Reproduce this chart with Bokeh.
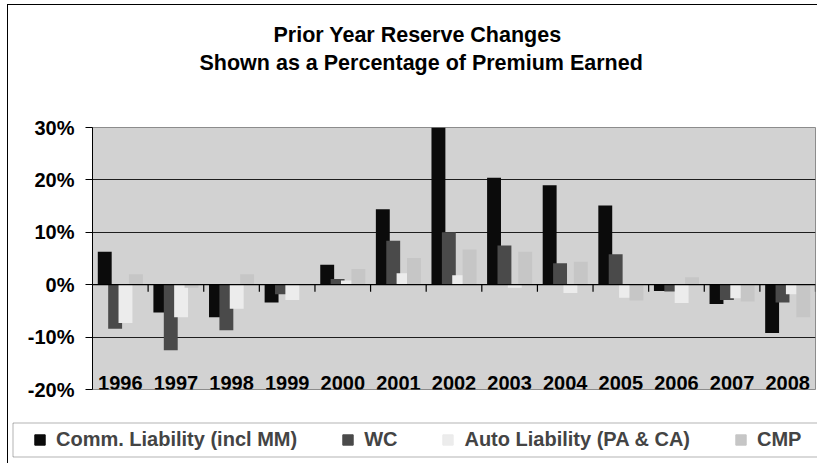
import numpy as np
from bokeh.plotting import figure
from bokeh.models import (Range1d, FixedTicker, Legend, LegendItem, Title,
                          ColumnDataSource, BoxAnnotation)
from bokeh.core.properties import value
from bokeh.embed import file_html
from bokeh.resources import INLINE

# ---------------- data ----------------
years = ["1996", "1997", "1998", "1999", "2000", "2001", "2002",
         "2003", "2004", "2005", "2006", "2007", "2008"]
comm_liab = [6.3, -5.3, -6.2, -3.4, 3.8, 14.4, 32.0, 20.4, 19.0, 15.1, -1.2, -3.7, -9.2]
wc = [-8.4, -12.5, -8.7, -1.8, 1.1, 8.4, 10.0, 7.5, 4.1, 5.8, -1.3, -2.9, -3.4]
auto_liab = [-7.3, -6.2, -4.6, -2.9, 0.8, 2.2, 1.8, -0.6, -1.6, -2.5, -3.5, -2.6, -1.8]
cmp_ = [2.0, -0.6, 2.0, 0.1, 3.0, 5.1, 6.7, 6.3, 4.4, -3.0, 1.4, -3.2, -6.2]
series_names = ["Comm. Liability (incl MM)", "WC", "Auto Liability (PA & CA)", "CMP"]
y_ticks = [-20, -10, 0, 10, 20, 30]
title_lines = ["Prior Year Reserve Changes", "Shown as a Percentage of Premium Earned"]

series_values = [comm_liab, wc, auto_liab, cmp_]
colors = ["#0b0b0b", "#4a4a4a", "#ececec", "#c6c6c6"]
offsets = [-0.28, -0.093, 0.093, 0.28]
bar_w = 0.25
FONT = "Liberation Sans"

MAIN_W, MAIN_H = 810, 405
LEFT, RIGHT, TOP, BOTTOM = 84, 3, 122, 21
p = figure(width=MAIN_W, height=MAIN_H, output_backend="svg", toolbar_location=None,
           x_range=Range1d(0, len(years)), y_range=Range1d(y_ticks[0], y_ticks[-1]),
           x_axis_location=None,
           min_border_left=LEFT, min_border_right=RIGHT, min_border_top=TOP,
           min_border_bottom=BOTTOM)
p.styles = {"margin-left": "7px", "margin-top": "4px",
            "border-left": "1px solid black", "border-top": "1px solid black"}
p.background_fill_color = "#d2d2d2"
p.border_fill_color = "white"
p.outline_line_color = "#8c8c8c"
p.outline_line_width = 1

# y axis
yax = p.yaxis[0]
yax.ticker = FixedTicker(ticks=y_ticks)
yax.major_label_overrides = {t: f"{t}%" for t in y_ticks}
yax.major_label_text_font = FONT
yax.major_label_text_font_style = "bold"
yax.major_label_text_font_size = "20px"
yax.major_label_text_color = "black"
yax.major_tick_out = 7
yax.major_tick_in = 0
yax.minor_tick_line_color = None
yax.major_label_standoff = 11
yax.axis_line_color = "black"
yax.major_tick_line_color = "black"

# grid
p.ygrid[0].ticker = FixedTicker(ticks=[-10, 0, 10, 20])
p.ygrid[0].grid_line_color = "#1e1e1e"
p.xgrid.grid_line_color = None

centers = np.arange(len(years)) + 0.5
renderers, sources = [], []
for vals, col, off in zip(series_values, colors, offsets):
    src = ColumnDataSource(dict(x=centers + off, top=vals))
    r = p.vbar(x="x", top="top", bottom=0, width=bar_w, source=src,
               fill_color=col, line_color=None)
    renderers.append(r)
    sources.append(src)

# category axis crossing at zero (drawn over the bars), ticks between categories
frame_w = MAIN_W - LEFT - RIGHT
frame_h = MAIN_H - TOP - BOTTOM
px_x = len(years) / frame_w
px_y = (y_ticks[-1] - y_ticks[0]) / frame_h
p.hbar(y=[0], left=0, right=len(years), height=1.2 * px_y,
       fill_color="black", line_color=None)
bounds = np.arange(1, len(years) + 1)
p.vbar(x=bounds, top=0, bottom=-7 * px_y, width=1.2 * px_x,
       fill_color="black", line_color=None)

# category labels at the bottom of the plot area
p.text(x=centers, y=[y_ticks[0]] * len(years), text=years,
       text_align="center", text_baseline="middle", y_offset=-7,
       text_font=value(FONT), text_font_style="bold", text_font_size="20px",
       text_color="black")

# titles (first added sits closest to the plot): spacer, line 2, line 1
p.add_layout(Title(text=" ", text_font_size="1px", standoff=48), "above")
p.add_layout(Title(text=title_lines[1], align="left", offset=107,
                   text_font=FONT, text_font_style="bold", text_font_size="21.5px",
                   text_color="black", standoff=4), "above")
p.add_layout(Title(text=title_lines[0], align="left", offset=181,
                   text_font=FONT, text_font_style="bold", text_font_size="21.5px",
                   text_color="black", standoff=0), "above")

# ---------------- legend strip ----------------
LEG_W, LEG_H = 810, 54
pl = figure(width=LEG_W, height=LEG_H, output_backend="svg", toolbar_location=None,
            x_range=Range1d(0, LEG_W), y_range=Range1d(0, LEG_H),
            x_axis_location=None, y_axis_location=None, min_border=0)
pl.styles = {"margin-left": "7px", "border-left": "1px solid black"}
pl.outline_line_color = None
pl.xgrid.grid_line_color = None
pl.ygrid.grid_line_color = None
pl.background_fill_color = "white"
pl.border_fill_color = "white"
pl.add_layout(BoxAnnotation(left=4.5, right=LEG_W + 100, bottom=6.5, top=40.5,
                            fill_alpha=0, line_color="black", line_width=1))
# same series, mapped onto a range that keeps them out of view (legend swatches only)
pl.extra_y_ranges = {"hidden": Range1d(1e6, 1e6 + 1)}
leg_renderers = [pl.vbar(x="x", top="top", bottom=0, width=bar_w, source=s,
                         fill_color=c, line_color=c, y_range_name="hidden")
                 for s, c in zip(sources, colors)]
legend = Legend(items=[LegendItem(label=n, renderers=[r])
                       for n, r in zip(series_names, leg_renderers)],
                orientation="horizontal", location=(25, 12),
                glyph_width=13, glyph_height=13, label_standoff=10, spacing=44,
                padding=6, margin=0, label_text_font=FONT, label_text_font_style="bold",
                label_text_font_size="20px", border_line_color=None,
                background_fill_alpha=0)
pl.add_layout(legend, "center")

open("out.html", "w").write(file_html([p, pl], INLINE))
